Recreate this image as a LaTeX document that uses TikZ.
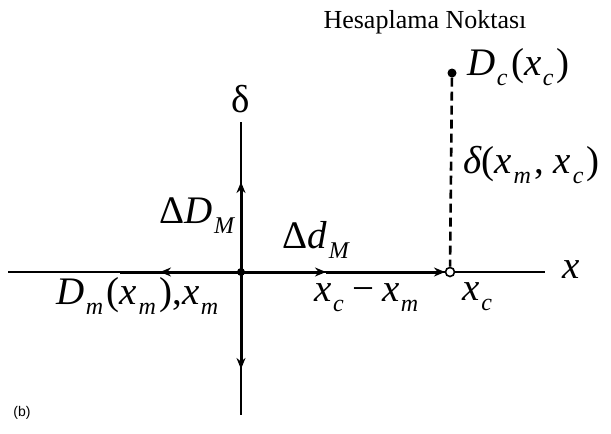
\documentclass[tikz,border=0pt]{standalone}
\usepackage{fontspec}
\setmainfont{Liberation Serif}
\setsansfont{Liberation Sans}
\usetikzlibrary{arrows.meta}
\newcommand{\iv}[1]{\textit{#1}}
\newcommand{\sbs}[1]{\kern1.5pt\raisebox{-10pt}{\fontsize{24}{26}\selectfont\textit{#1}}\kern3.5pt}
\begin{document}
\begin{tikzpicture}[x=1pt,y=-1pt,
  thinax/.style={line width=1.6pt},
  thickax/.style={line width=3pt},
  arr/.style={thickax,-{Stealth[length=11pt,width=9pt]}},
  lbl/.style={font=\fontsize{39}{41}\selectfont,inner sep=0pt},
  ttl/.style={font=\fontsize{26}{28}\selectfont,inner sep=0pt}]
\useasboundingbox (0,0) rectangle (611,434);
% coordinates
\coordinate (O) at (241,272);
\coordinate (xl) at (8,272);
\coordinate (xr) at (545,272);
\coordinate (xtl) at (120,272);
\coordinate (am) at (160,272);
\coordinate (ad) at (326,272);
\coordinate (ac) at (445,272);
\coordinate (yt) at (241,122);
\coordinate (yb) at (241,415);
\coordinate (au) at (241,182);
\coordinate (adn) at (241,369);
% axes
\draw[thinax] (xl) -- (xr);
\draw[thinax] (yt) -- (yb);
\draw[thickax] (xtl) -- (O);
\draw[arr] (O) -- (am);
\draw[arr] (O) -- (ad);
\draw[arr] (ad) -- (ac);
\draw[arr] (O) -- (au);
\draw[arr] (O) -- (adn);
\fill (O) circle (4);
% points
\node[circle,draw,fill=white,line width=1.6pt,minimum size=9pt,inner sep=0pt] (C) at (450,272) {};
\node[circle,fill=black,minimum size=9pt,inner sep=0pt] (D) at (452,73) {};
\draw[line width=2.6pt,dash pattern=on 9pt off 5pt] (D) -- (C);
% labels
\node[ttl] (t) at (425,22) {Hesaplama Noktası};
\node[lbl,anchor=west] (dc) at (467,67) {\iv{D}\sbs{c}(\iv{x}\sbs{c})};
\node[lbl,anchor=west] (dl) at (463,165) {\iv{δ}(\iv{x}\sbs{m}, \iv{x}\sbs{c})};
\node[lbl] (delta) at (241,99) {δ};
\node[lbl] (DM) at (199,216) {Δ\iv{D}\sbs{M}};
\node[lbl] (dM) at (318,240) {Δ\iv{d}\sbs{M}};
\node[lbl] (Dm) at (139,296) {\iv{D}\sbs{m}(\iv{x}\sbs{m}),\iv{x}\sbs{m}};
\node[lbl] (xcxm) at (368,298) {\iv{x}\sbs{c}\kern5pt−\kern8pt\iv{x}\sbs{m}};
\node[lbl] (xc) at (479,297) {\iv{x}\sbs{c}};
\node[lbl] (x) at (571,270) {\iv{x}};
\node[font=\sffamily\fontsize{14}{16}\selectfont,inner sep=0pt] (b) at (22,413) {(b)};
\end{tikzpicture}
\end{document}
